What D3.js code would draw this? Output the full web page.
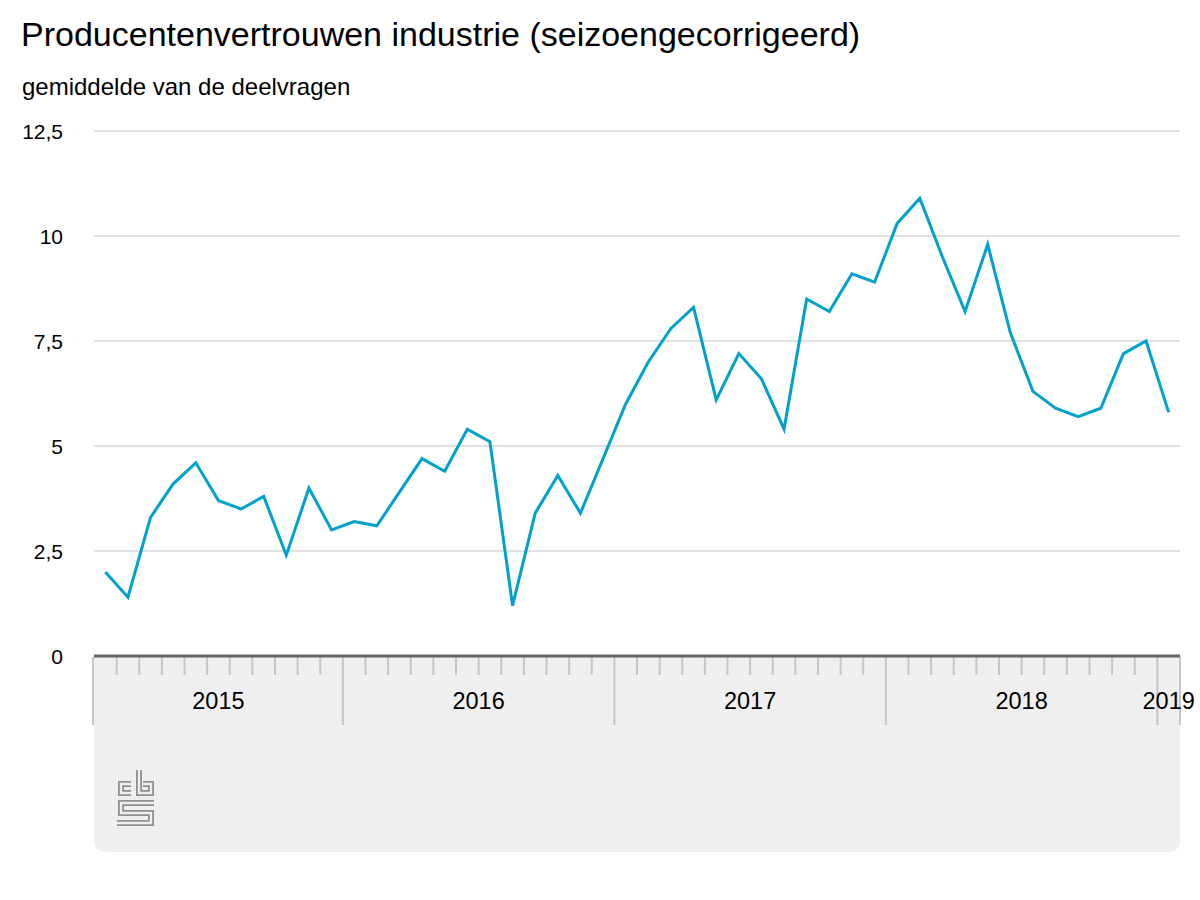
<!DOCTYPE html>
<html>
<head>
<meta charset="utf-8">
<script src="https://cdn.jsdelivr.net/npm/d3@7"></script>
<style>
  body { margin: 0; background: #fff; }
  svg { display: block; font-family: "Liberation Sans", Arial, sans-serif; }
</style>
</head>
<body>
<svg id="chart" width="1200" height="900"></svg>
<script>
// maanden en waarden
var months = [
    "2015-02", "2015-03", "2015-04", "2015-05", "2015-06", "2015-07", "2015-08", "2015-09", "2015-10", "2015-11", "2015-12",
    "2016-01", "2016-02", "2016-03", "2016-04", "2016-05", "2016-06", "2016-07", "2016-08", "2016-09", "2016-10", "2016-11", "2016-12",
    "2017-01", "2017-02", "2017-03", "2017-04", "2017-05", "2017-06", "2017-07", "2017-08", "2017-09", "2017-10", "2017-11", "2017-12",
    "2018-01", "2018-02", "2018-03", "2018-04", "2018-05", "2018-06", "2018-07", "2018-08", "2018-09", "2018-10", "2018-11", "2018-12",
    "2019-01"
];
var values = [
    2.0, 1.4, 3.3, 4.1, 4.6, 3.7, 3.5, 3.8, 2.4, 4.0, 3.0,
    3.2, 3.1, 3.9, 4.7, 4.4, 5.4, 5.1, 1.2, 3.4, 4.3, 3.4, 4.7,
    6.0, 7.0, 7.8, 8.3, 6.1, 7.2, 6.6, 5.4, 8.5, 8.2, 9.1, 8.9,
    10.3, 10.9, 9.5, 8.2, 9.8, 7.7, 6.3, 5.9, 5.7, 5.9, 7.2, 7.5,
    5.8
];
var yTicks = [0, 2.5, 5, 7.5, 10, 12.5];
var years = ["2015", "2016", "2017", "2018", "2019"];

var title = "Producentenvertrouwen industrie (seizoengecorrigeerd)";
var subtitle = "gemiddelde van de deelvragen";

var svg = d3.select("#chart");
var plotLeft = 94, plotRight = 1180, plotTop = 131, plotBottom = 656;

// elke maand een even brede band, punt in het midden
var x = d3.scaleBand()
    .domain(months)
    .range([plotLeft, plotRight])
    .padding(0);
var y = d3.scaleLinear().domain([0, 12.5]).range([plotBottom, plotTop]);

var nl = d3.formatLocale({ decimal: ",", thousands: ".", grouping: [3], currency: ["€", ""] });
var fmt = nl.format("~g");

// titel
svg.append("text")
    .attr("x", 21).attr("y", 46)
    .attr("font-size", "34px")
    .attr("fill", "#000")
    .text(title);
svg.append("text")
    .attr("x", 22).attr("y", 95)
    .attr("font-size", "24px")
    .attr("fill", "#000")
    .text(subtitle);

// grijs paneel onder de as
var panelTop = 657, panelBottom = 852, r = 12;
svg.append("path")
    .attr("d", "M" + plotLeft + "," + panelTop + "H" + plotRight + "V" + (panelBottom - r)
        + "Q" + plotRight + "," + panelBottom + " " + (plotRight - r) + "," + panelBottom
        + "H" + (plotLeft + r) + "Q" + plotLeft + "," + panelBottom + " " + plotLeft + "," + (panelBottom - r) + "Z")
    .attr("fill", "#efefef");

// gridlijnen
svg.append("g")
    .selectAll("line")
    .data(yTicks.filter(function (d) { return d > 0; }))
    .join("line")
    .attr("x1", plotLeft).attr("x2", plotRight)
    .attr("y1", function (d) { return y(d); })
    .attr("y2", function (d) { return y(d); })
    .attr("stroke", "#c4c4c4")
    .attr("stroke-width", 1.2);

// y-labels
svg.append("g")
    .selectAll("text")
    .data(yTicks)
    .join("text")
    .attr("x", 63)
    .attr("y", function (d) { return y(d); })
    .attr("dy", "0.36em")
    .attr("text-anchor", "end")
    .attr("font-size", "21px")
    .attr("fill", "#000")
    .text(function (d) { return fmt(d); });

// maand- en jaarstreepjes aan het begin van elke band
svg.append("g")
    .selectAll("line")
    .data(months.slice(1))
    .join("line")
    .attr("x1", function (d) { return x(d); })
    .attr("x2", function (d) { return x(d); })
    .attr("y1", panelTop)
    .attr("y2", function (d) { return d.slice(5) === "01" ? 725 : 675; })
    .attr("stroke", "#c6c6c6")
    .attr("stroke-width", 2);

svg.append("g")
    .selectAll("line")
    .data([plotLeft - 1, plotRight])
    .join("line")
    .attr("x1", function (d) { return d; })
    .attr("x2", function (d) { return d; })
    .attr("y1", panelTop)
    .attr("y2", 725)
    .attr("stroke", "#c6c6c6")
    .attr("stroke-width", 2);

// jaarlabels, gecentreerd in het zichtbare deel van het jaar
svg.append("g")
    .selectAll("text")
    .data(years)
    .join("text")
    .attr("x", function (d) {
        var inYear = months.filter(function (m) { return m.slice(0, 4) === d; });
        var a = x(inYear[0]);
        var b = x(inYear[inYear.length - 1]) + x.bandwidth();
        return (a + b) / 2;
    })
    .attr("y", 709)
    .attr("text-anchor", "middle")
    .attr("font-size", "23.5px")
    .attr("fill", "#000")
    .text(function (d) { return d; });

// x-as
svg.append("line")
    .attr("x1", plotLeft).attr("x2", plotRight)
    .attr("y1", y(0)).attr("y2", y(0))
    .attr("stroke", "#666")
    .attr("stroke-width", 3);

// lijn
var line = d3.line()
    .x(function (d, i) { return x(months[i]) + x.bandwidth() / 2; })
    .y(function (d) { return y(d); });

svg.append("path")
    .datum(values)
    .attr("d", line)
    .attr("fill", "none")
    .attr("stroke", "#00a1cd")
    .attr("stroke-width", 3)
    .attr("stroke-linejoin", "miter");

// cbs logo (dubbele lijn)
var logo = [
    "M131,784H121V793H131",
    "M139,770V793H151V784H143",
    "M154,803H121V813H151V823H117"
];
var lg = svg.append("g");
lg.selectAll("path.o")
    .data(logo)
    .join("path")
    .attr("d", function (d) { return d; })
    .attr("fill", "none")
    .attr("stroke", "#8f8f8f")
    .attr("stroke-width", 6);
lg.selectAll("path.i")
    .data(logo)
    .join("path")
    .attr("d", function (d) { return d; })
    .attr("fill", "none")
    .attr("stroke", "#efefef")
    .attr("stroke-width", 2.4);
</script>
</body>
</html>
